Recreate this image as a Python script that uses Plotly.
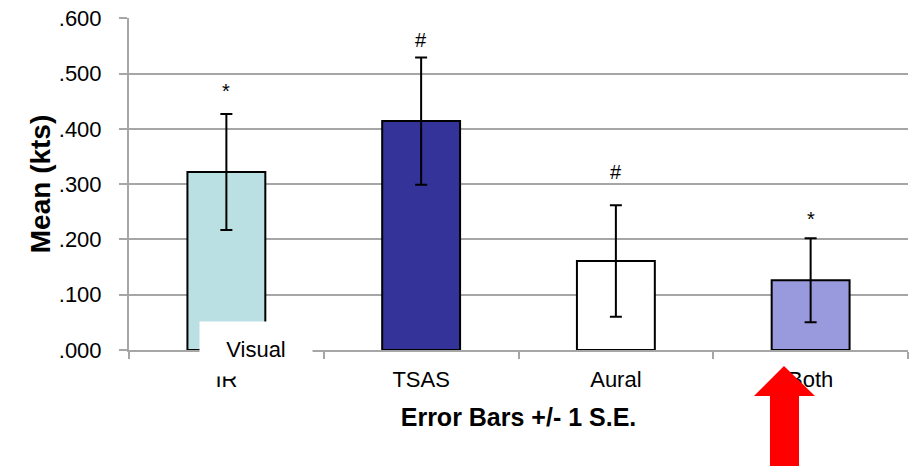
import plotly.graph_objects as go

categories = ["IR", "TSAS", "Aural", "Both"]
means = [0.322, 0.414, 0.161, 0.126]
std_err = [0.105, 0.115, 0.101, 0.076]
bar_colors = ["#BBE0E3", "#333399", "#FFFFFF", "#9999DD"]
sig_marks = ["*", "#", "#", "*"]
sig_y = [0.469, 0.560, 0.322, 0.237]
y_tick_vals = [0.0, 0.1, 0.2, 0.3, 0.4, 0.5, 0.6]
y_tick_text = [".000", ".100", ".200", ".300", ".400", ".500", ".600"]

FONT = "Liberation Sans, Arial, sans-serif"
GRID = "#A6A6A6"

fig = go.Figure()
fig.add_trace(go.Bar(
    x=categories, y=means,
    marker=dict(color=bar_colors, line=dict(color="black", width=2)),
    error_y=dict(type="data", array=std_err, visible=True,
                 color="black", thickness=2, width=6),
    showlegend=False,
))

for cat, m, yy in zip(categories, sig_marks, sig_y):
    fig.add_annotation(x=cat, y=yy, text=m, showarrow=False,
                       xref="x", yref="y", yanchor="middle",
                       font=dict(family=FONT, size=20, color="black"))

# "Visual" white label box over the first category label
fig.add_annotation(x=0.163, y=0.004, xref="paper", yref="paper",
                   text="Visual", showarrow=False, xanchor="center", yanchor="middle",
                   bgcolor="white", width=112, height=54, borderpad=0,
                   font=dict(family=FONT, size=22, color="black"))

# Red block arrow pointing at "Both"
fig.add_shape(type="path", xref="paper", yref="paper", layer="above",
              path="M 0.8408 -0.0482 L 0.8806 -0.1386 L 0.8601 -0.1386 L 0.8601 -0.36 "
                   "L 0.8228 -0.36 L 0.8228 -0.1386 L 0.8023 -0.1386 Z",
              fillcolor="#FF0000", line=dict(width=0))

fig.update_layout(
    width=910, height=466,
    margin=dict(l=129, r=2, t=18, b=116),
    paper_bgcolor="white", plot_bgcolor="white",
    bargap=0.6,
    font=dict(family=FONT, color="black"),
    xaxis=dict(
        showline=True, linecolor=GRID, linewidth=2,
        ticks="outside", tickson="boundaries", ticklen=7, tickcolor=GRID, tickwidth=1.5,
        tickfont=dict(size=22, family=FONT), ticklabelstandoff=9,
        title=dict(text="<b>Error Bars +/- 1 S.E.</b>", font=dict(size=25, family=FONT), standoff=17),
        showgrid=False,
    ),
    yaxis=dict(
        range=[0, 0.6005],
        tickvals=y_tick_vals, ticktext=y_tick_text,
        showline=True, linecolor=GRID, linewidth=2,
        ticks="outside", ticklen=8, tickcolor=GRID, tickwidth=1.5,
        tickfont=dict(size=22, family=FONT), ticklabelstandoff=13,
        showgrid=True, gridcolor=GRID, gridwidth=2,
        zeroline=False,
        title=dict(text="<b>Mean (kts)</b>", font=dict(size=28, family=FONT), standoff=0),
    ),
)

fig.write_html("out.html", config={"displayModeBar": False},
               post_script="document.body.style.margin='0';")
